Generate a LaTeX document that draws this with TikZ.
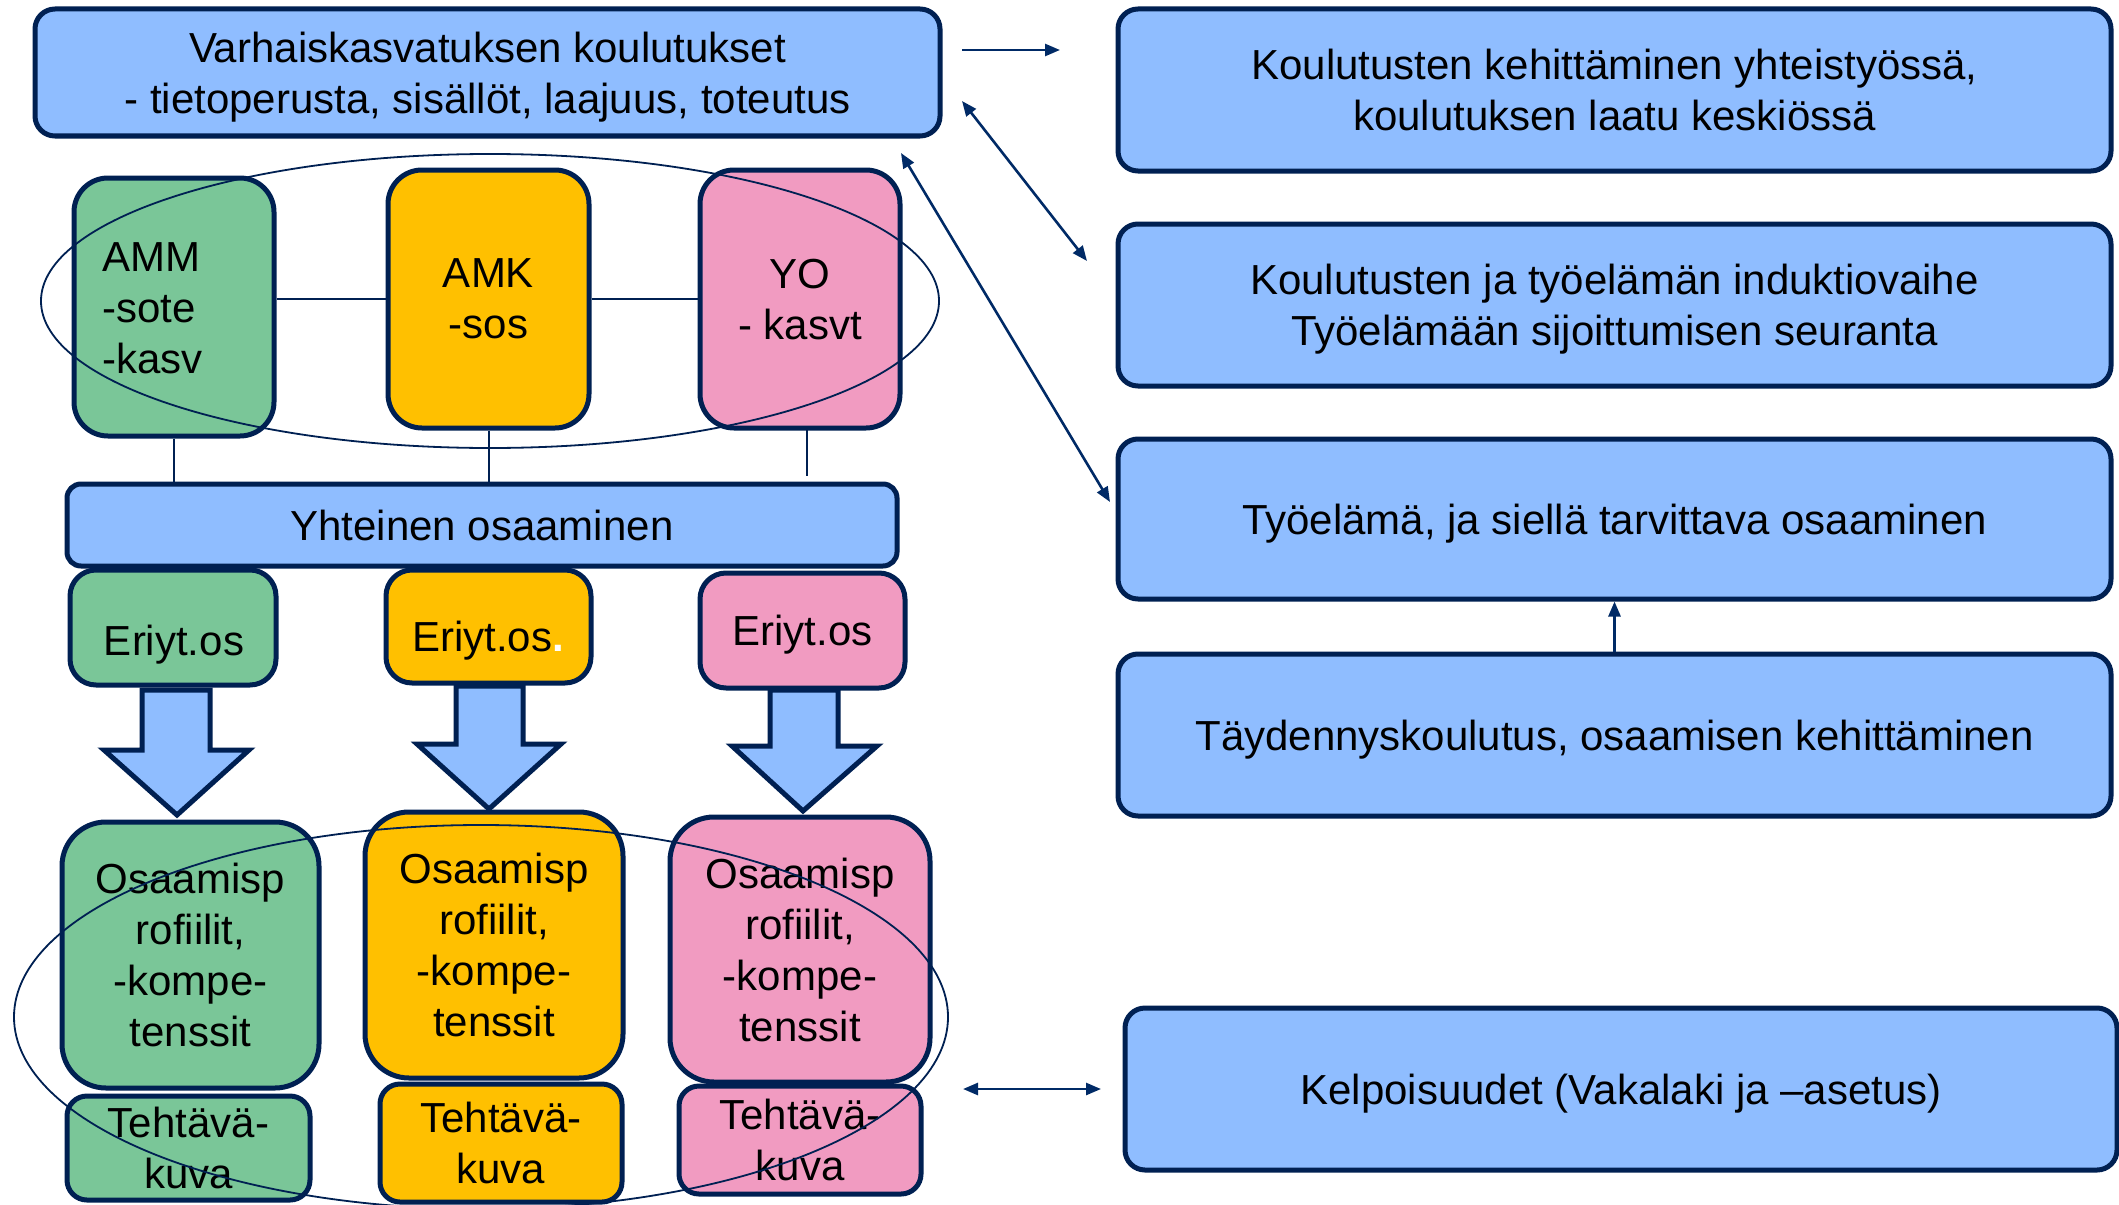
\documentclass[tikz,border=0pt]{standalone}
\usepackage{fontspec}
\setmainfont{Liberation Sans}
\usetikzlibrary{arrows.meta}
\definecolor{navy}{RGB}{0,32,82}
\definecolor{arrnavy}{RGB}{0,42,102}
\definecolor{boxblue}{RGB}{143,189,255}
\definecolor{boxgreen}{RGB}{122,198,152}
\definecolor{boxorange}{RGB}{255,192,0}
\definecolor{boxpink}{RGB}{241,155,193}
\newcommand\bigfont{\fontsize{21}{25.5}\selectfont}
\tikzset{
  box/.style={draw=navy, line width=2.5pt, rounded corners=10pt, fill=boxblue, align=center, font=\bigfont, inner sep=0pt, text depth=0pt},
  colbox/.style={box, rounded corners=17pt},
  bigbox/.style={box, rounded corners=22pt},
  thin/.style={draw=navy, line width=1pt},
  ell/.style={draw=navy, line width=0.9pt},
  arr/.style={draw=arrnavy, line width=1.3pt, -{Triangle[length=7.5pt,width=6pt]}},
  darr/.style={draw=arrnavy, line width=1.3pt, {Triangle[length=7.5pt,width=6pt]}-{Triangle[length=7.5pt,width=6pt]}},
  blockarrow/.style={draw=navy, line width=2.5pt, fill=boxblue, line join=miter}
}
\begin{document}
\begin{tikzpicture}[x=0.5pt,y=-0.5pt]
\useasboundingbox (0,0) rectangle (2119,1204);
% top left
\node[box, minimum width=452.5pt, minimum height=63.5pt] (top) at (487.5,72.5) {Varhaiskasvatuksen koulutukset\\- tietoperusta, sisällöt, laajuus, toteutus};
% right column
\node[box, minimum width=496.5pt, minimum height=81pt] (r1) at (1614.5,90) {Koulutusten kehittäminen yhteistyössä,\\koulutuksen laatu keskiössä};
\node[box, minimum width=496.5pt, minimum height=81pt] (r2) at (1614.5,305) {Koulutusten ja työelämän induktiovaihe\\Työelämään sijoittumisen seuranta};
\node[box, minimum width=496.5pt, minimum height=80pt] (r3) at (1614.5,519) {Työelämä, ja siellä tarvittava osaaminen};
\node[box, minimum width=496.5pt, minimum height=81pt] (r4) at (1614.5,735) {Täydennyskoulutus, osaamisen kehittäminen};
\node[box, minimum width=496pt, minimum height=81pt] (r5) at (1621,1089) {Kelpoisuudet (Vakalaki ja –asetus)};
% column boxes
\node[colbox, fill=boxgreen, minimum width=100pt, minimum height=129pt] (amm) at (174,307) {};
\node[font=\bigfont, align=left, inner sep=0pt, anchor=west] (ammt) at (102,308) {AMM\\-sote\\-kasv};
\node[colbox, fill=boxorange, minimum width=100.5pt, minimum height=129pt] (amk) at (488.5,299) {AMK\\-sos};
\node[colbox, fill=boxpink, minimum width=100pt, minimum height=129pt] (yo) at (800,299) {YO\\- kasvt};
\node[box, minimum width=415pt, minimum height=41pt, rounded corners=7pt] (yht) at (482,525) {Yhteinen osaaminen};
% Eriyt
\node[box, fill=boxgreen, rounded corners=13pt, minimum width=103pt, minimum height=57.5pt] (e1) at (173,627.5) {};
\node[font=\bigfont, inner sep=0pt] (e1t) at (174,645) {Eriyt.os};
\node[box, fill=boxorange, rounded corners=13pt, minimum width=102.5pt, minimum height=56.5pt] (e2) at (488.5,626.5) {};
\node[font=\bigfont, inner sep=0pt] (e2t) at (488,641) {Eriyt.os{\color{white}\textbf{.}}};
\node[box, fill=boxpink, rounded corners=13pt, minimum width=102.5pt, minimum height=57.5pt] (e3) at (802.5,630.5) {Eriyt.os};
% block arrows
\path[blockarrow] (142,690) -- (210,690) -- (210,750) -- (249,750) -- (177,815) -- (104,750) -- (142,750) -- cycle;
\path[blockarrow] (456,686) -- (523,686) -- (523,744) -- (561,744) -- (489,809) -- (417,744) -- (456,744) -- cycle;
\path[blockarrow] (770,690) -- (838,690) -- (838,746) -- (877,746) -- (803,811) -- (732,746) -- (770,746) -- cycle;
% Osaamisprofiilit
\node[bigbox, fill=boxgreen, minimum width=128.5pt, minimum height=133pt] (o1) at (190.5,955) {Osaamisp\\rofiilit,\\-kompe-\\tenssit};
\node[bigbox, fill=boxorange, minimum width=129pt, minimum height=133pt] (o2) at (494,945) {Osaamisp\\rofiilit,\\-kompe-\\tenssit};
\node[bigbox, fill=boxpink, minimum width=130pt, minimum height=132.5pt] (o3) at (800,949.5) {Osaamisp\\rofiilit,\\-kompe-\\tenssit};
% Tehtava
\node[box, fill=boxgreen, minimum width=121.5pt, minimum height=52pt] (t1) at (188.5,1148) {Tehtävä-\\kuva};
\node[box, fill=boxorange, minimum width=121pt, minimum height=59pt] (t2) at (501,1143) {Tehtävä-\\kuva};
\node[box, fill=boxpink, minimum width=121pt, minimum height=54pt] (t3) at (800,1140) {Tehtävä-\\kuva};
% thin connectors
\draw[thin] (amm.east |- amk.west) -- (amk.west);
\draw[thin] (amk.east) -- (yo.west);
\draw[thin] (amm.south) -- (amm.south |- yht.north);
\draw[thin] (amk.south) -- (amk.south |- yht.north);
\coordinate (yos) at (807,430);
\coordinate (yoe) at (807,476);
\draw[thin] (yos) -- (yoe);
% ellipses
\draw[ell] (490,301) ellipse [x radius=449, y radius=147];
\draw[ell] (481,1017) ellipse [x radius=467, y radius=192];
% arrows
\coordinate (a1s) at (962,50);
\coordinate (a1e) at (1060,50);
\draw[arr] (a1s) -- (a1e);
\coordinate (a2s) at (962,101);
\coordinate (a2e) at (1087,261);
\draw[darr] (a2s) -- (a2e);
\coordinate (a3s) at (901,153);
\coordinate (a3e) at (1110,502);
\draw[darr] (a3s) -- (a3e);
\draw[arr] (r4.north) -- (r3.south);
\coordinate (a5s) at (963,1089);
\coordinate (a5e) at (1101,1089);
\draw[darr] (a5s) -- (a5e);
\end{tikzpicture}
\end{document}
